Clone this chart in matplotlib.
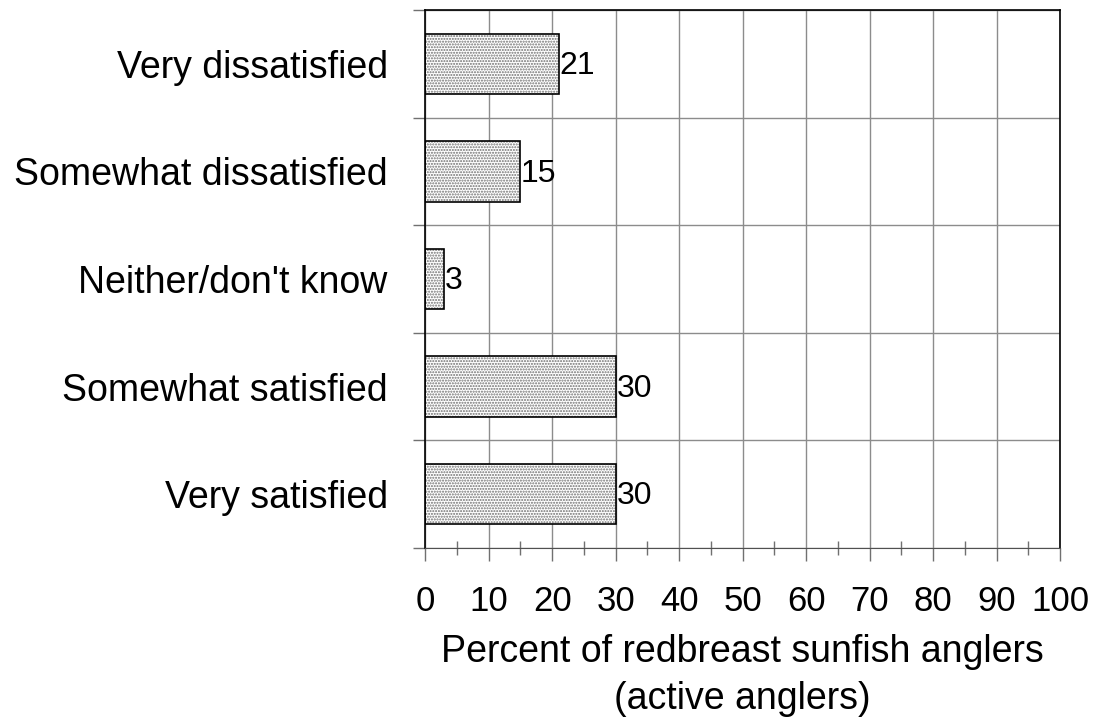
import matplotlib.pyplot as plt
import numpy as np
from matplotlib.ticker import MultipleLocator

plt.rcParams['font.family'] = ['Liberation Sans', 'DejaVu Sans']
plt.rcParams['hatch.linewidth'] = 1.0

categories = ['Very dissatisfied', 'Somewhat dissatisfied', 'Neither/don\'t know',
              'Somewhat satisfied', 'Very satisfied']
values = [21, 15, 3, 30, 30]
xticks = list(range(0, 101, 10))

fig = plt.figure(figsize=(10.93, 7.19), dpi=100)
ax = fig.add_axes([0.389, 0.238, 0.581, 0.748])

y = np.arange(len(categories))
# dotted fill, then black outline
ax.barh(y, values, height=0.56, color='white', edgecolor='#707070', hatch='......',
        linewidth=0, zorder=2)
ax.barh(y, values, height=0.56, fill=False, edgecolor='black', linewidth=1.2, zorder=3)

for yi, v in zip(y, values):
    ax.text(v + 0.1, yi + 0.02, str(v), va='center', ha='left', fontsize=23, zorder=4)

ax.set_xlim(0, 100)
ax.set_ylim(4.5, -0.5)

ax.set_xticks(xticks)
ax.xaxis.set_minor_locator(MultipleLocator(5))
ax.tick_params(axis='x', which='major', direction='out', length=9, width=1,
               color='#707070', labelsize=25, pad=18)
ax.tick_params(axis='x', which='minor', direction='inout', length=10, width=1,
               color='#707070')

ax.set_yticks(np.arange(-0.5, len(categories), 1.0))
ax.set_yticklabels([])
ax.set_yticks(y, minor=True)
ax.set_yticklabels(categories, minor=True, fontsize=27)
ax.tick_params(axis='y', which='major', direction='out', length=9, width=1, color='#707070')
ax.tick_params(axis='y', which='minor', length=0, pad=27)

ax.grid(True, which='major', color='#8c8c8c', linewidth=1, zorder=0)
ax.set_axisbelow(True)

for s in ['left', 'right', 'top']:
    ax.spines[s].set_color('black')
    ax.spines[s].set_linewidth(1.2)
ax.spines['bottom'].set_color('#505050')

ax.set_xlabel('Percent of redbreast sunfish anglers\n(active anglers)', fontsize=27,
              labelpad=11, linespacing=1.4)

fig.savefig('out.png', dpi=100)
